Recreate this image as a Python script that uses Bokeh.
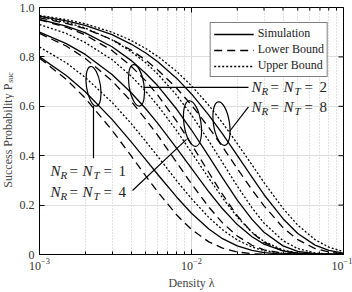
import math
from bokeh.plotting import figure
from bokeh.layouts import row
from bokeh.models import (Range1d, FixedTicker, Legend, LegendItem, Label,
                          CustomJSTickFormatter, LogTickFormatter)
from bokeh.embed import file_html
from bokeh.resources import INLINE

# ---------------- data ----------------
density = [0.001, 0.0015, 0.002, 0.003, 0.004, 0.005, 0.006, 0.008, 0.01, 0.013,
           0.016, 0.02, 0.025, 0.03, 0.04, 0.05, 0.065, 0.08, 0.1]

sim_n1 = [0.800, 0.725, 0.659, 0.547, 0.457, 0.384, 0.324, 0.232, 0.167, 0.103,
          0.064, 0.035, 0.0165, 0.0079, 0.0019, 0.0005, 0.0001, 0.0, 0.0]
low_n1 = [0.795, 0.709, 0.633, 0.503, 0.400, 0.318, 0.253, 0.160, 0.101, 0.051,
          0.026, 0.010, 0.0033, 0.0010, 0.0001, 0.0, 0.0, 0.0, 0.0]
up_n1 = [0.840, 0.776, 0.717, 0.616, 0.531, 0.458, 0.397, 0.298, 0.226, 0.150,
         0.100, 0.059, 0.030, 0.016, 0.0045, 0.0013, 0.0002, 0.0, 0.0]

sim_n2 = [0.900, 0.854, 0.810, 0.729, 0.656, 0.590, 0.531, 0.430, 0.349, 0.254,
          0.185, 0.121, 0.072, 0.042, 0.015, 0.0051, 0.0011, 0.0002, 0.0]
low_n2 = [0.895, 0.844, 0.794, 0.703, 0.621, 0.547, 0.482, 0.372, 0.286, 0.192,
          0.128, 0.075, 0.0375, 0.0188, 0.0046, 0.0011, 0.0001, 0.0, 0.0]
up_n2 = [0.931, 0.895, 0.858, 0.789, 0.723, 0.661, 0.603, 0.501, 0.413, 0.309,
         0.229, 0.152, 0.090, 0.053, 0.018, 0.006, 0.0011, 0.0002, 0.0]

sim_n4 = [0.952, 0.925, 0.897, 0.841, 0.786, 0.733, 0.683, 0.588, 0.504, 0.397,
          0.310, 0.220, 0.142, 0.090, 0.035, 0.013, 0.003, 0.0006, 0.0001]
low_n4 = [0.950, 0.920, 0.889, 0.826, 0.763, 0.703, 0.645, 0.539, 0.446, 0.332,
          0.243, 0.157, 0.089, 0.049, 0.014, 0.0039, 0.0005, 0.0001, 0.0]
up_n4 = [0.962, 0.940, 0.917, 0.869, 0.822, 0.776, 0.731, 0.644, 0.565, 0.460,
         0.372, 0.277, 0.189, 0.127, 0.056, 0.0236, 0.0062, 0.0015, 0.0002]

sim_n8 = [0.965, 0.946, 0.928, 0.890, 0.852, 0.816, 0.780, 0.713, 0.650, 0.564,
          0.488, 0.401, 0.313, 0.242, 0.145, 0.085, 0.038, 0.0166, 0.0054]
low_n8 = [0.958, 0.936, 0.914, 0.870, 0.828, 0.787, 0.747, 0.673, 0.605, 0.514,
          0.436, 0.348, 0.262, 0.197, 0.109, 0.060, 0.024, 0.0097, 0.0028]
up_n8 = [0.968, 0.951, 0.934, 0.900, 0.867, 0.834, 0.802, 0.741, 0.683, 0.604,
         0.533, 0.449, 0.363, 0.291, 0.187, 0.119, 0.060, 0.030, 0.0115]

x_ticks = [0.001, 0.01, 0.1]
x_minor = [0.002, 0.003, 0.004, 0.005, 0.006, 0.007, 0.008, 0.009,
           0.02, 0.03, 0.04, 0.05, 0.06, 0.07, 0.08, 0.09]
y_ticks = [0, 0.2, 0.4, 0.6, 0.8, 1.0]
legend_labels = ["Simulation", "Lower Bound", "Upper Bound"]
group_labels = ["1", "2", "4", "8"]

# annotation marks (ellipse centres and label anchors, data coordinates)
ellipse_x = [0.002266, 0.004346, 0.01015, 0.01575]
ellipse_y = [0.681, 0.685, 0.530, 0.530]
label_x = [0.001181, 0.02481, 0.001181, 0.02481]
label_y = [0.339, 0.677, 0.255, 0.598]

FONT = "Times New Roman"

LEFT_W = 14
p = figure(width=352 - LEFT_W, height=292, x_axis_type="log",
           x_range=Range1d(1e-3, 1e-1), y_range=Range1d(0, 1),
           output_backend="svg", toolbar_location=None,
           min_border_left=39 - LEFT_W, min_border_right=9, min_border_top=7,
           min_border_bottom=34)
p.outline_line_color = "black"
p.background_fill_color = "white"
p.border_fill_color = "white"

xtick = FixedTicker(ticks=x_ticks, minor_ticks=x_minor)
ytick = FixedTicker(ticks=y_ticks)

# grids
p.xgrid.ticker = xtick
p.xgrid.grid_line_color = "#d6d6d6"
p.xgrid.minor_grid_line_color = "#c4c4c4"
p.xgrid.minor_grid_line_dash = "1 2"
p.ygrid.ticker = ytick
p.ygrid.grid_line_color = "#dedede"

# axes
xa = p.xaxis[0]
xa.ticker = xtick
xa.formatter = LogTickFormatter()
xa.major_label_text_font = FONT
xa.major_label_text_font_size = "12px"
xa.major_label_text_color = "#333333"
xa.major_tick_in = 5
xa.major_tick_out = 0
xa.minor_tick_in = 3
xa.minor_tick_out = 0
xa.major_label_standoff = 3
xa.axis_line_color = "black"
xa.axis_label = "Density λ"
xa.axis_label_text_font = FONT
xa.axis_label_text_font_size = "12px"
xa.axis_label_text_font_style = "normal"
xa.axis_label_text_color = "#444444"
xa.axis_label_standoff = 3

ya = p.yaxis[0]
ya.ticker = ytick
ya.formatter = CustomJSTickFormatter(code="return tick == 0 ? '0' : tick.toFixed(1);")
ya.major_label_text_font = FONT
ya.major_label_text_font_size = "12px"
ya.major_label_text_color = "#333333"
ya.major_tick_in = 5
ya.major_tick_out = 0
ya.minor_tick_line_color = None
ya.major_label_standoff = 5
ya.axis_line_color = "black"

# tick marks on the top and right edges of the box (clipped half-dashes)
p.scatter(x=x_ticks, y=[1.0] * len(x_ticks), marker="dash", size=10, angle=math.pi / 2,
          line_color="black", line_width=1)
p.scatter(x=x_minor, y=[1.0] * len(x_minor), marker="dash", size=6, angle=math.pi / 2,
          line_color="black", line_width=1)
p.scatter(x=[0.1] * len(y_ticks), y=y_ticks, marker="dash", size=10,
          line_color="black", line_width=1)

# curves
DASH = "8 5"
DOT = "2 2"
LW = 1.3
groups = [(sim_n1, low_n1, up_n1), (sim_n2, low_n2, up_n2),
          (sim_n4, low_n4, up_n4), (sim_n8, low_n8, up_n8)]
leg_r = None
for sim, low, up in groups:
    r_s = p.line(density, sim, line_color="black", line_width=LW)
    r_l = p.line(density, low, line_color="black", line_width=LW, line_dash=DASH)
    r_u = p.line(density, up, line_color="black", line_width=LW, line_dash=DOT)
    if leg_r is None:
        leg_r = [r_s, r_l, r_u]

# ellipses marking the groups
p.ellipse(x=ellipse_x, y=ellipse_y, width=[14, 15, 17, 16], height=[40, 42, 46, 44],
          width_units="screen", height_units="screen", angle=0.15,
          fill_color=None, line_color="black", line_width=1.2)

# leader lines
p.segment(x0=[0.002266, 0.004834, 0.004093, 0.01778],
          y0=[0.602, 0.677, 0.259, 0.498],
          x1=[0.002266, 0.02371, 0.00927, 0.02371],
          y1=[0.390, 0.677, 0.466, 0.598],
          line_color="black", line_width=1.2)

# N_R = N_T = k labels made of text runs
def math_label(x, y, digit):
    runs = [("N", 0, 0, "15px", "italic"), ("R", 10, -4, "11px", "italic"),
            ("=", 19, 0, "15px", "normal"), ("N", 32, 0, "15px", "italic"),
            ("T", 43, -4, "11px", "italic"), ("=", 53, 0, "15px", "normal"),
            (digit, 68, 0, "15px", "normal")]
    for txt, dx, dy, size, style in runs:
        p.add_layout(Label(x=x, y=y, text=txt, x_offset=dx, y_offset=dy,
                           text_font=FONT, text_font_size=size, text_font_style=style,
                           text_color="#222222", text_baseline="middle", text_align="left"))

for lx, ly, g in zip(label_x, label_y, group_labels):
    math_label(lx, ly, g)

legend = Legend(items=[LegendItem(label=t, renderers=[r]) for t, r in zip(legend_labels, leg_r)],
                location="top_right", margin=15, padding=3, spacing=1,
                glyph_width=40, glyph_height=12, label_height=12, label_standoff=4,
                label_text_font=FONT, label_text_font_size="12px", label_text_color="#222222",
                border_line_color="black", border_line_width=1, background_fill_alpha=1)
p.add_layout(legend)

# narrow strip on the left holding the rotated y-axis title with its subscript
lf = figure(width=LEFT_W, height=292, x_range=Range1d(0, LEFT_W), y_range=Range1d(0, 292),
            output_backend="svg", toolbar_location=None, min_border=0)
lf.xaxis.visible = False
lf.yaxis.visible = False
lf.xgrid.visible = False
lf.ygrid.visible = False
lf.outline_line_color = None
lf.border_fill_color = "white"
lf.text(x=[7], y=[202], text=["Success Probability P"], angle=math.pi / 2,
        text_align="right", text_baseline="middle", text_font=FONT,
        text_font_size="12px", text_color="#444444")
lf.text(x=[10], y=[203], text=["suc"], angle=math.pi / 2,
        text_align="left", text_baseline="middle", text_font=FONT,
        text_font_size="8px", text_color="#444444")

layout = row(lf, p, spacing=0)
open("out.html", "w").write(file_html(layout, INLINE))
